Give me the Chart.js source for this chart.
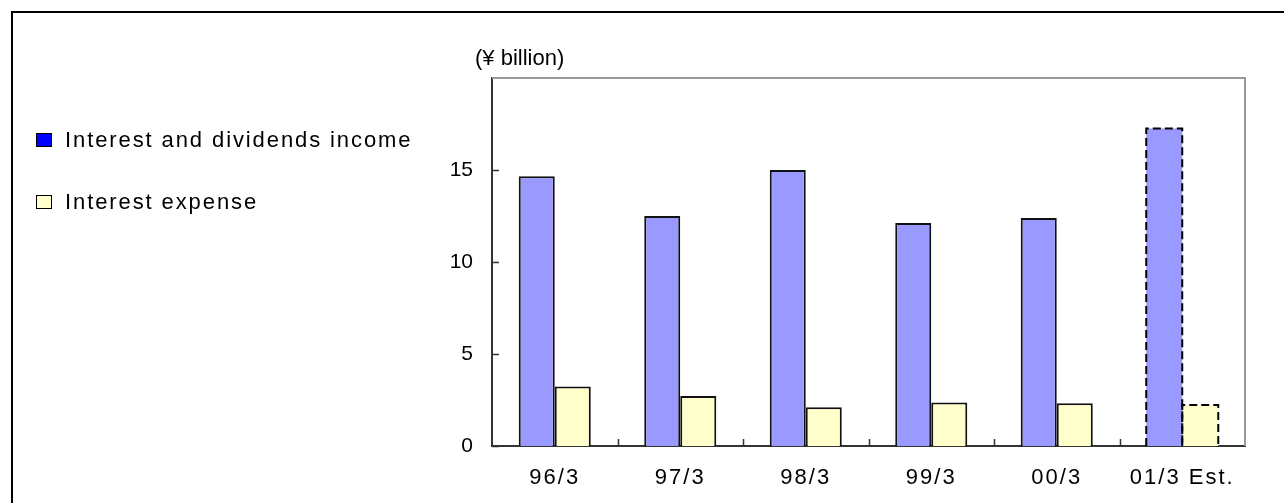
<!DOCTYPE html>
<html><head><meta charset="utf-8">
<script src="https://cdn.jsdelivr.net/npm/chart.js@4.4.1/dist/chart.umd.min.js"></script>
<style>
html,body{margin:0;padding:0;background:#fff;overflow:hidden}
#wrap{position:relative;width:1284px;height:503px;overflow:hidden}
#frame{position:absolute;left:11px;top:11px;width:1400px;height:600px;border-left:2px solid #000;border-top:2px solid #000}
#c{position:absolute;left:0;top:0}
.leg{position:absolute;font-family:"Liberation Sans",Arial,sans-serif;font-size:22px;line-height:22px;letter-spacing:1.9px;color:#000;white-space:nowrap}
.sw{position:absolute;width:14px;height:12px;border:1.5px solid #000}
#unit{position:absolute;left:475px;top:46px;font-family:"Liberation Sans",Arial,sans-serif;font-size:22px;line-height:24px;color:#000;white-space:nowrap}
</style></head>
<body>
<div id="wrap">
<div id="frame"></div>
<canvas id="c" width="1284" height="503"></canvas>
<div id="unit">(¥ billion)</div>
<div class="sw" style="left:36px;top:133px;background:#0000FF"></div>
<div class="leg" style="left:65px;top:129px">Interest and dividends income</div>
<div class="sw" style="left:36px;top:195px;background:#FFFFCC"></div>
<div class="leg" style="left:65px;top:191px">Interest expense</div>
</div>
<script>
const categories = ['96/3','97/3','98/3','99/3','00/3','01/3 Est.'];
const incomeValues = [14.66, 12.5, 15.0, 12.12, 12.39, 17.25];
const expenseValues = [3.24, 2.72, 2.1, 2.36, 2.32, 2.23];
const yTicks = [0, 5, 10, 15];
const yMax = 20;
const estimateIndex = 5;

const frameAndTicks = {
  id: 'frameAndTicks',
  afterDatasetsDraw(chart) {
    const ctx = chart.ctx;
    const a = chart.chartArea;
    const xs = chart.scales.x, ys = chart.scales.y;
    ctx.save();
    ctx.strokeStyle = '#000';
    ctx.lineWidth = 2;
    ctx.setLineDash([8, 4]);
    chart.data.datasets.forEach((ds, di) => {
      const el = chart.getDatasetMeta(di).data[estimateIndex];
      if (!el) return;
      const p = el.getProps(['x','y','base','width'], true);
      const l = p.x - p.width/2, r = p.x + p.width/2;
      ctx.beginPath();
      ctx.moveTo(l, p.base); ctx.lineTo(l, p.y); ctx.lineTo(r, p.y); ctx.lineTo(r, p.base);
      ctx.stroke();
    });
    ctx.setLineDash([]);
    ctx.strokeStyle = '#999';
    ctx.lineWidth = 2;
    ctx.beginPath();
    ctx.moveTo(a.left, a.top); ctx.lineTo(a.right, a.top); ctx.lineTo(a.right, a.bottom);
    ctx.stroke();
    ctx.strokeStyle = '#333';
    ctx.lineWidth = 1.5;
    ctx.beginPath();
    yTicks.forEach(v => {
      const y = Math.round(ys.getPixelForValue(v)) + 0.5;
      ctx.moveTo(a.left, y); ctx.lineTo(a.left + 7, y);
    });
    for (let i = 1; i < categories.length; i++) {
      const x = Math.round((xs.getPixelForValue(i - 1) + xs.getPixelForValue(i)) / 2) + 0.5;
      ctx.moveTo(x, a.bottom); ctx.lineTo(x, a.bottom - 7);
    }
    ctx.stroke();
    ctx.restore();
  }
};

const chart = new Chart(document.getElementById('c'), {
  type: 'bar',
  data: {
    labels: categories,
    datasets: [
      {
        label: 'Interest and dividends income',
        data: incomeValues,
        backgroundColor: '#9999FF',
        borderColor: '#111',
        borderWidth: ctx => ctx.dataIndex === estimateIndex ? 0 : 2,
        categoryPercentage: 0.574,
        barPercentage: 1.0
      },
      {
        label: 'Interest expense',
        data: expenseValues,
        backgroundColor: '#FFFFCC',
        borderColor: '#111',
        borderWidth: ctx => ctx.dataIndex === estimateIndex ? 0 : 2,
        categoryPercentage: 0.574,
        barPercentage: 1.0
      }
    ]
  },
  options: {
    responsive: false,
    animation: false,
    layout: { padding: { left: 432, right: 39, top: 78, bottom: 7 } },
    plugins: { legend: { display: false }, tooltip: { enabled: false }, title: { display: false } },
    scales: {
      x: {
        grid: { display: false, drawTicks: false },
        border: { display: true, color: '#333', width: 2 },
        ticks: { color: '#000', font: { family: 'Liberation Sans', size: 22 }, padding: 19, maxRotation: 0, autoSkip: false },
        afterFit: s => { s.height = 50; }
      },
      y: {
        min: 0,
        max: yMax,
        grid: { display: false, drawTicks: false },
        border: { display: true, color: '#333', width: 2 },
        ticks: { color: '#000', font: { family: 'Liberation Sans', size: 21 }, padding: 19 },
        afterBuildTicks: s => { s.ticks = yTicks.map(v => ({ value: v })); },
        afterFit: s => { s.width = 60; }
      }
    }
  },
  plugins: [frameAndTicks]
});

const xs = chart.scales.x;
const origDrawLabels = xs.drawLabels.bind(xs);
xs.drawLabels = function (area) {
  const c = this.ctx;
  c.save();
  c.letterSpacing = '2px';
  origDrawLabels(area);
  c.restore();
};
chart.draw();
</script>
</body></html>
